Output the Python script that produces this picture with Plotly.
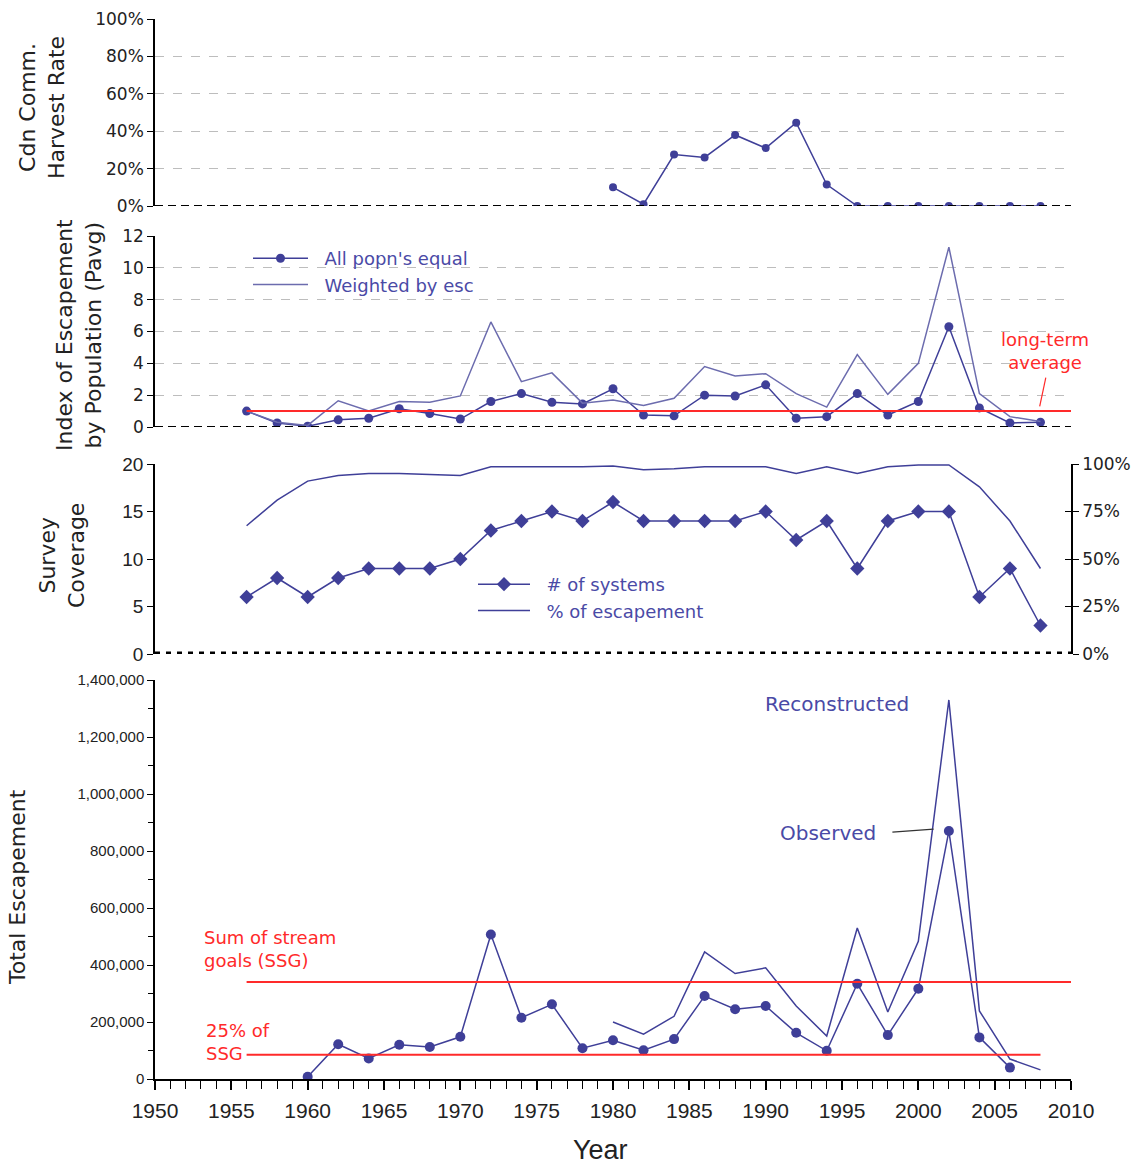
import plotly.graph_objects as go

# ---- data ----
years_hr = [1980, 1982, 1984, 1986, 1988, 1990, 1992, 1994, 1996, 1998, 2000, 2002, 2004, 2006, 2008]
harvest_rate = [10, 1, 27.5, 26, 38, 31, 44.5, 11.5, 0, 0, 0, 0, 0, 0, 0]

years = list(range(1956, 2009, 2))
pavg_equal = [1.0, 0.25, 0.05, 0.45, 0.55, 1.15, 0.85, 0.5, 1.6, 2.1, 1.55, 1.45, 2.4, 0.75,
              0.7, 2.0, 1.95, 2.65, 0.55, 0.65, 2.1, 0.75, 1.6, 6.3, 1.2, 0.25, 0.3]
pavg_weighted = [1.0, 0.3, 0.1, 1.65, 1.0, 1.6, 1.55, 1.95, 6.6, 2.85, 3.4, 1.5, 1.7, 1.35,
                 1.8, 3.8, 3.2, 3.35, 2.1, 1.25, 4.55, 2.05, 4.0, 11.3, 2.1, 0.65, 0.35]
long_term_avg = 1.0

num_systems = [6, 8, 6, 8, 9, 9, 9, 10, 13, 14, 15, 14, 16, 14, 14, 14, 14, 15, 12, 14,
               9, 14, 15, 15, 6, 9, 3]
pct_escapement = [67.5, 81, 91, 94, 95, 95, 94.5, 94, 98.5, 98.5, 98.5, 98.5, 99, 97, 97.5,
                  98.5, 98.5, 98.5, 95, 98.5, 95, 98.5, 99.5, 99.5, 88, 70, 45]

years_obs = list(range(1960, 2007, 2))
observed = [8000, 122000, 72000, 120000, 112000, 148000, 507000, 215000, 262000, 108000,
            136000, 101000, 140000, 291000, 245000, 256000, 162000, 99000, 334000, 154000,
            317000, 870000, 146000, 40000]
years_rec = list(range(1980, 2009, 2))
reconstructed = [200000, 157000, 220000, 446000, 370000, 390000, 256000, 151000, 530000,
                 235000, 483000, 1330000, 239000, 70000, 32000]
ssg = 340000
ssg_quarter = 0.25 * ssg

year_ticks = list(range(1950, 2011, 5))

# ---- styling ----
W, H = 1144, 1164
NAVY = "#3f3f98"
WEIGHT = "#6c6cae"
TEXTC = "#4a4aa6"
RED = "#ff2a2a"
TICKFONT = dict(family="DejaVu Sans", size=17, color="#222")
NARROW = dict(family="Liberation Sans Narrow, Liberation Sans, sans-serif", size=21, color="#222")
TITLEFONT = dict(family="DejaVu Sans", size=22, color="#222")
LABELFONT = dict(family="DejaVu Sans", size=18)
GAP = "\u00a0\u00a0"  # small gap between legend symbol and text

xd = [155 / W, 1071 / W]


def ydom(top_px, bot_px):
    return [1 - bot_px / H, 1 - top_px / H]


fig = go.Figure()

# panel 1: harvest rate
fig.add_trace(go.Scatter(x=years_hr, y=harvest_rate, xaxis="x2", yaxis="y2", mode="lines+markers",
                         line=dict(color=NAVY, width=1.5), marker=dict(size=8, color=NAVY),
                         showlegend=False))

# panel 2: escapement index
fig.add_trace(go.Scatter(x=years, y=pavg_equal, xaxis="x3", yaxis="y3", mode="lines+markers",
                         name=GAP + "All popn's equal", legend="legend",
                         line=dict(color=NAVY, width=1.5), marker=dict(size=9, color=NAVY)))
fig.add_trace(go.Scatter(x=years, y=pavg_weighted, xaxis="x3", yaxis="y3", mode="lines",
                         name=GAP + "Weighted by esc", legend="legend",
                         line=dict(color=WEIGHT, width=1.5)))

# panel 3: survey coverage
fig.add_trace(go.Scatter(x=years, y=num_systems, xaxis="x4", yaxis="y4", mode="lines+markers",
                         name=GAP + "# of systems", legend="legend2",
                         line=dict(color=NAVY, width=1.5),
                         marker=dict(size=11, color=NAVY, symbol="diamond")))
fig.add_trace(go.Scatter(x=years, y=pct_escapement, xaxis="x4", yaxis="y5", mode="lines",
                         name=GAP + "% of escapement", legend="legend2",
                         line=dict(color=NAVY, width=1.5)))
# invisible companion so the inner tick axis on the right gets drawn
fig.add_trace(go.Scatter(x=years, y=pct_escapement, xaxis="x4", yaxis="y6", mode="lines",
                         line=dict(color="rgba(0,0,0,0)", width=0), hoverinfo="skip",
                         showlegend=False))

# panel 4: total escapement
fig.add_trace(go.Scatter(x=years_rec, y=reconstructed, xaxis="x", yaxis="y", mode="lines",
                         line=dict(color=NAVY, width=1.5), showlegend=False))
fig.add_trace(go.Scatter(x=years_obs, y=observed, xaxis="x", yaxis="y", mode="lines+markers",
                         line=dict(color=NAVY, width=1.5), marker=dict(size=10, color=NAVY),
                         showlegend=False))

hidden_x = dict(domain=xd, range=[1950, 2010], visible=False, fixedrange=True, automargin=False)
yline = dict(showline=True, linecolor="black", linewidth=1.5, ticks="outside", ticklen=6,
             tickcolor="black", zeroline=False, automargin=False)

fig.update_layout(
    width=W, height=H,
    margin=dict(l=0, r=0, t=0, b=0, autoexpand=False),
    paper_bgcolor="white", plot_bgcolor="white",
    xaxis=dict(domain=xd, range=[1950, 2010], anchor="y", tickvals=year_ticks,
               showline=True, linecolor="black", linewidth=1.5, ticks="outside", ticklen=9,
               tickcolor="black", tickwidth=1.5, tickfont=NARROW, showgrid=False, zeroline=False,
               automargin=False, ticklabelstandoff=3,
               minor=dict(dtick=1, tick0=1950, ticks="outside", ticklen=8, tickcolor="black",
                          tickwidth=1.2, showgrid=False)),
    xaxis2=dict(hidden_x, anchor="y2"),
    xaxis3=dict(hidden_x, anchor="y3"),
    xaxis4=dict(hidden_x, anchor="y4"),
    yaxis=dict(yline, domain=ydom(680, 1079), range=[0, 1400000], anchor="x", dtick=200000,
               tickformat=",d", tickfont=dict(NARROW, size=15), showgrid=False,
               minor=dict(dtick=100000, ticks="outside", ticklen=5, tickcolor="black")),
    yaxis2=dict(yline, domain=ydom(19, 206), range=[0, 100], anchor="x2", dtick=20,
                ticksuffix="%", tickfont=TICKFONT, showgrid=True, gridcolor="#bdbdbd",
                griddash="dash", gridwidth=1),
    yaxis3=dict(yline, domain=ydom(236, 427), range=[0, 12], anchor="x3", dtick=2,
                tickfont=TICKFONT, showgrid=True, gridcolor="#bdbdbd",
                griddash="dash", gridwidth=1),
    yaxis4=dict(yline, domain=ydom(464, 654), range=[0, 20], anchor="x4", dtick=5,
                tickfont=dict(NARROW, size=19), showgrid=False),
    yaxis5=dict(yline, domain=ydom(464, 654), range=[0, 100], anchor="x4", overlaying="y4",
                side="right", dtick=25, ticksuffix="%", tickfont=TICKFONT, showgrid=False),
    # inner half of the crossing ticks on the right-hand coverage axis
    yaxis6=dict(yline, domain=ydom(464, 654), range=[0, 100], anchor="x4", overlaying="y4",
                side="right", dtick=25, ticks="inside", showticklabels=False, showgrid=False),
    legend=dict(x=248 / W, y=1 - 240 / H, xanchor="left", yanchor="top",
                bgcolor="rgba(0,0,0,0)", itemwidth=55, tracegroupgap=0,
                font=dict(LABELFONT, color=TEXTC)),
    legend2=dict(x=473 / W, y=1 - 566 / H, xanchor="left", yanchor="top",
                 bgcolor="rgba(0,0,0,0)", itemwidth=52,
                 font=dict(LABELFONT, color=TEXTC)),
    showlegend=True,
)

shapes = []
# zero baselines
shapes.append(dict(type="line", xref="x2 domain", yref="y2", x0=0, x1=1, y0=0, y1=0,
                   line=dict(color="black", width=2, dash="8px,5px")))
shapes.append(dict(type="line", xref="x3 domain", yref="y3", x0=0, x1=1, y0=0, y1=0,
                   line=dict(color="black", width=2, dash="8px,5px")))
shapes.append(dict(type="line", xref="x4 domain", yref="y4", x0=0, x1=1, y0=0, y1=0,
                   line=dict(color="black", width=5, dash="5px,6px")))
# reference levels
shapes.append(dict(type="line", xref="x3", yref="y3", x0=1956, x1=2010,
                   y0=long_term_avg, y1=long_term_avg, line=dict(color=RED, width=2)))
shapes.append(dict(type="line", xref="x", yref="y", x0=1956, x1=2010, y0=ssg, y1=ssg,
                   line=dict(color=RED, width=2)))
shapes.append(dict(type="line", xref="x", yref="y", x0=1956, x1=2008, y0=ssg_quarter,
                   y1=ssg_quarter, line=dict(color=RED, width=2)))
# pointer lines
shapes.append(dict(type="line", xref="x3", yref="y3", x0=2008.35, x1=2007.95, y0=3.1, y1=1.3,
                   line=dict(color=RED, width=1.2)))
shapes.append(dict(type="line", xref="x", yref="y", x0=1998.3, x1=2001.0, y0=866000, y1=877000,
                   line=dict(color="#333", width=1.2)))
fig.update_layout(shapes=shapes)

ann = []


def title(text, xpx, ypx):
    ann.append(dict(text=text, xref="paper", yref="paper", x=xpx / W, y=1 - ypx / H,
                    showarrow=False, textangle=-90, font=TITLEFONT,
                    xanchor="center", yanchor="middle", align="center"))


title("Cdn Comm.<br>Harvest Rate", 42, 108)
title("Index of Escapement<br>by Population (Pavg)", 79, 335)
title("Survey<br>Coverage", 62, 555)
title("Total Escapement", 17, 887)

ann.append(dict(text="Year", xref="paper", yref="paper", x=600 / W, y=1 - 1150 / H,
                showarrow=False, font=dict(NARROW, size=27), xanchor="center", yanchor="middle"))

ann.append(dict(text="long-term<br>average", xref="x3", yref="y3", x=2008.3, y=4.8,
                showarrow=False, font=dict(LABELFONT, color=RED), align="center"))
ann.append(dict(text="Sum of stream<br>goals (SSG)", xref="x", yref="y", x=1953.1, y=455000,
                showarrow=False, xanchor="left", align="left", font=dict(LABELFONT, color=RED)))
ann.append(dict(text="25% of<br>SSG", xref="x", yref="y", x=1953.2, y=130000,
                showarrow=False, xanchor="left", align="left", font=dict(LABELFONT, color=RED)))
ann.append(dict(text="Reconstructed", xref="x", yref="y", x=1994.7, y=1316000,
                showarrow=False, font=dict(family="DejaVu Sans", size=20, color=TEXTC)))
ann.append(dict(text="Observed", xref="x", yref="y", x=1994.1, y=863000,
                showarrow=False, font=dict(family="DejaVu Sans", size=20, color=TEXTC)))
fig.update_layout(annotations=ann)

fig.write_html("out.html")
